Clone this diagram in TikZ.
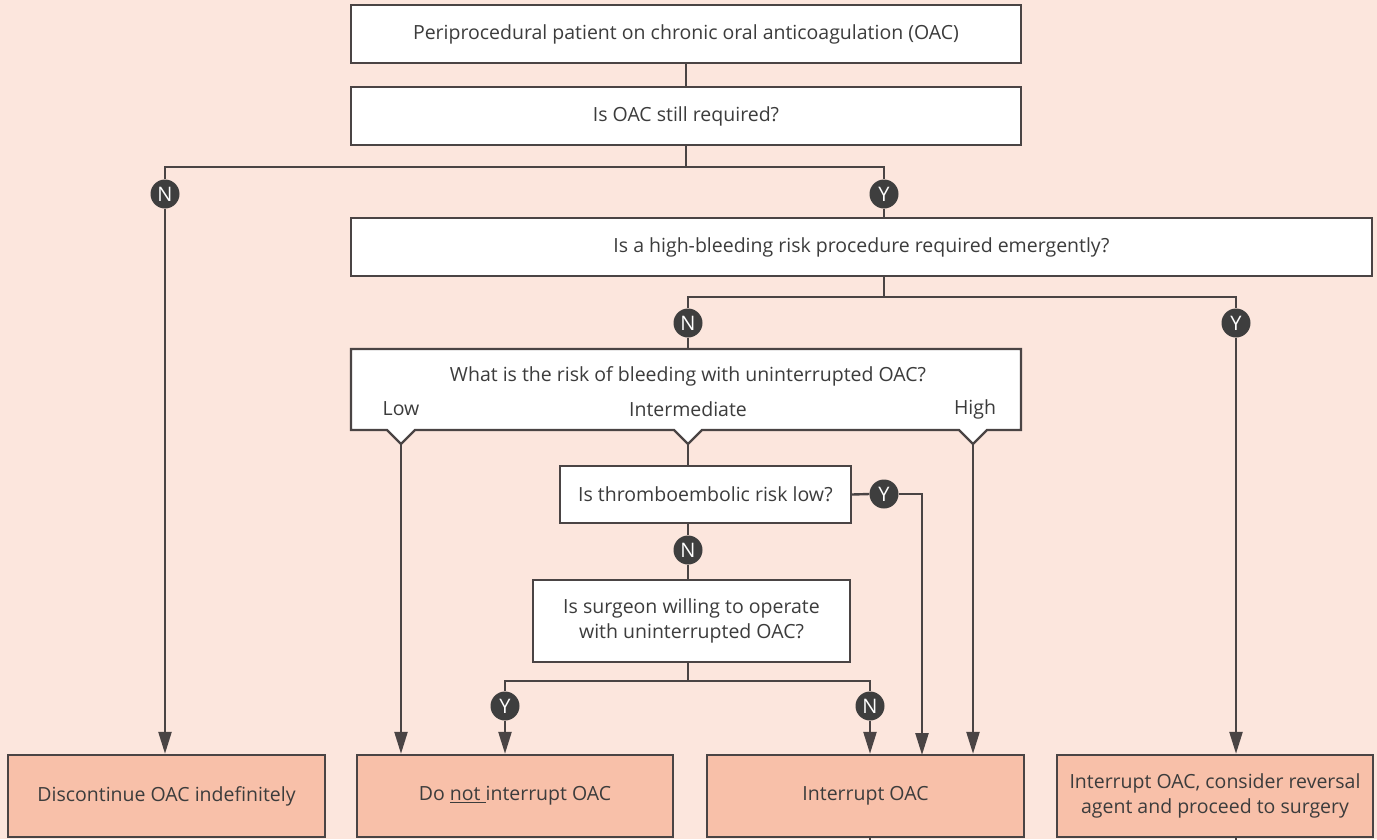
\documentclass[tikz,border=0pt]{standalone}
\usepackage{fontspec}
\setmainfont{Open Sans}
\usetikzlibrary{arrows.meta}
\definecolor{bgpeach}{HTML}{FCE6DD}
\definecolor{linegray}{HTML}{4A4444}
\definecolor{txtgray}{HTML}{3C3C3C}
\definecolor{outsalmon}{HTML}{F8C0A9}
\definecolor{dotgray}{HTML}{3E3E3E}
\begin{document}
\begin{tikzpicture}[x=1pt,y=-1pt,
  box/.style={draw=linegray, line width=2.4pt, fill=white, text=txtgray,
    inner sep=0pt, align=center, font=\fontsize{19.5}{25}\selectfont},
  outbox/.style={box, fill=outsalmon},
  lbl/.style={text=txtgray, inner sep=0pt, font=\fontsize{19.5}{25}\selectfont},
  yn/.style={circle, fill=dotgray, text=white, minimum size=29pt, inner sep=0pt,
    font=\fontsize{20}{20}\selectfont},
  conn/.style={draw=linegray, line width=2.4pt},
  arr/.style={conn, -{Triangle[length=22pt,width=13pt]}},
]
% canvas
\fill[bgpeach] (0,0) rectangle (1377,839);
\useasboundingbox (0,0) rectangle (1377,839);

% question boxes
\node[box, minimum width=670pt, minimum height=58pt] (top) at (686,34)
  {Periprocedural patient on chronic oral anticoagulation (OAC)};
\node[box, minimum width=670pt, minimum height=58pt] (q1) at (686,116)
  {Is OAC still required?};
\node[box, minimum width=1021pt, minimum height=58pt] (q2) at (861.5,247)
  {Is a high-bleeding risk procedure required emergently?};

% bleeding-risk box with three notched outlets
\node[minimum width=670pt, minimum height=81pt, inner sep=0pt] (risk) at (686,389.5) {};
\filldraw[draw=linegray, fill=white, line width=2.4pt, line join=miter]
  (351,349) -- (1021,349) -- (1021,430) -- (987,430) -- (973,444) -- (959,430)
  -- (702,430) -- (688,444) -- (674,430) -- (415,430) -- (401,444) -- (387,430)
  -- (351,430) -- cycle;
\coordinate (lowtip) at (401,444);
\coordinate (midtip) at (688,444);
\coordinate (hightip) at (973,444);
\node[lbl] (riskq) at (688,376) {What is the risk of bleeding with uninterrupted OAC?};
\node[lbl] (low) at (401,409) {Low};
\node[lbl] (mid) at (688,409) {Intermediate};
\node[lbl] (high) at (975,409) {High};

\node[box, minimum width=291pt, minimum height=57pt] (q3) at (705.5,494.5)
  {Is thromboembolic risk low?};
\node[box, minimum width=317pt, minimum height=82pt] (q4) at (691.5,621)
  {Is surgeon willing to operate\\with uninterrupted OAC?};

% outcome boxes
\node[outbox, minimum width=317pt, minimum height=82pt] (b1) at (166.5,796)
  {Discontinue OAC indefinitely};
\node[outbox, minimum width=316pt, minimum height=82pt] (b2) at (515,796)
  {Do \underline{not }interrupt OAC};
\node[outbox, minimum width=317pt, minimum height=82pt] (b3) at (865.5,796)
  {Interrupt OAC};
\node[outbox, minimum width=316pt, minimum height=82pt] (b4) at (1215,796)
  {Interrupt OAC, consider reversal\\agent and proceed to surgery};

% yes / no markers
\node[yn] (cN1) at (165,194) {N};
\node[yn] (cY1) at (884,194) {Y};
\node[yn] (cN2) at (688,323) {N};
\node[yn] (cY2) at (1236,323) {Y};
\node[yn] (cY3) at (884,494) {Y};
\node[yn] (cN3) at (688,550) {N};
\node[yn] (cY4) at (505,706) {Y};
\node[yn] (cN4) at (870,706) {N};

% junction points
\coordinate (j1) at (686,167);
\coordinate (j2) at (884,297);
\coordinate (j4) at (688,681);
\coordinate (in3) at (922,755);

% connectors
\draw[conn] (top.south) -- (q1.north);
\draw[conn] (q1.south) -- (j1);
\draw[conn] (cN1.north) |- (j1) -| (cY1.north);
\draw[arr] (cN1.south) -- (cN1 |- b1.north);
\draw[conn] (cY1.south) -- (cY1 |- q2.north);

\draw[conn] (cY1 |- q2.south) -- (j2);
\draw[conn] (cN2.north) |- (j2) -| (cY2.north);
\draw[conn] (cN2.south) -- (cN2 |- risk.north);
\draw[arr] (cY2.south) -- (cY2 |- b4.north);

\draw[arr] (lowtip) -- (lowtip |- b2.north);
\draw[conn] (midtip) -- (midtip |- q3.north);
\draw[arr] (hightip) -- (hightip |- b3.north);

\draw[conn] (q3.east) -- (cY3.west);
\draw[arr] (cY3.east) -| (in3);
\draw[conn] (cN3 |- q3.south) -- (cN3.north);
\draw[conn] (cN3.south) -- (cN3 |- q4.north);

\draw[conn] (cN3 |- q4.south) -- (j4);
\draw[conn] (cY4.north) |- (j4) -| (cN4.north);
\draw[arr] (cY4.south) -- (cY4 |- b2.north);
\draw[arr] (cN4.south) -- (cN4 |- b3.north);

% lines leaving the lower edge
\draw[conn] (cN4 |- b3.south) -- ++(0,4);
\draw[conn] (cY2 |- b4.south) -- ++(0,4);
\end{tikzpicture}
\end{document}
